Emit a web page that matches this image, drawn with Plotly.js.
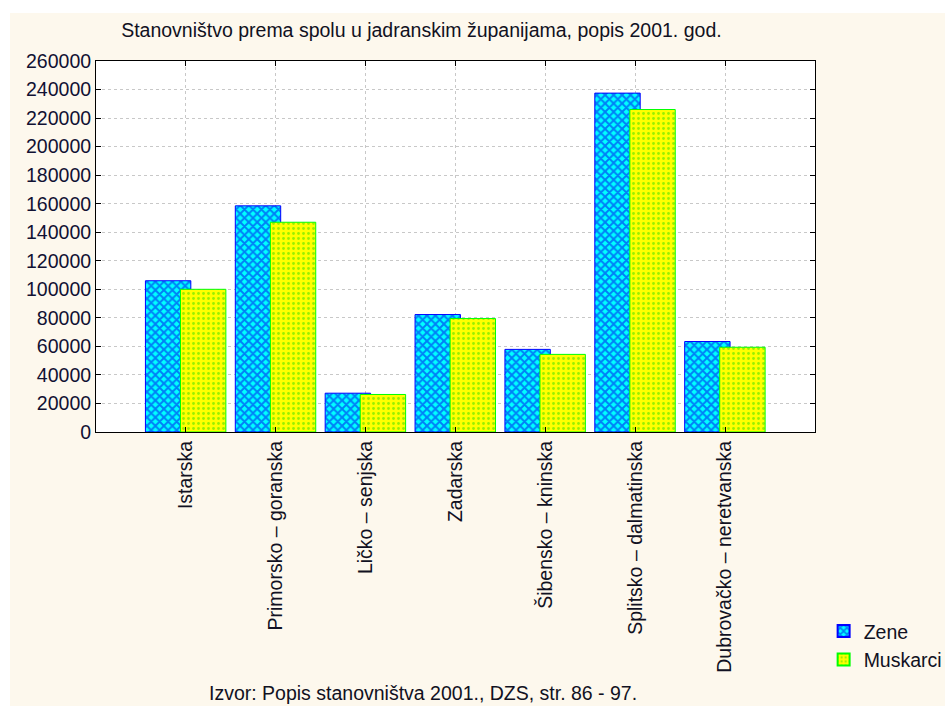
<!DOCTYPE html>
<html>
<head>
<meta charset="utf-8">
<script src="https://cdn.plot.ly/plotly-3.0.1.min.js"></script>
<style>
  html, body { margin: 0; padding: 0; background: #ffffff; }
  #chart { position: absolute; left: 10px; top: 13px; width: 935px; height: 693px; }
</style>
</head>
<body>
<div id="chart"></div>
<script>
const categories = ["Istarska", "Primorsko – goranska", "Ličko – senjska", "Zadarska",
  "Šibensko – kninska", "Splitsko – dalmatinska", "Dubrovačko – neretvanska"];
const zene = [106000, 158500, 27200, 82300, 57900, 237500, 63400];
const muskarci = [100000, 147000, 26300, 79500, 54400, 226000, 59400];
const yTicks = [0, 20000, 40000, 60000, 80000, 100000, 120000, 140000, 160000, 180000, 200000, 220000, 240000, 260000];
const seriesNames = ["Zene", "Muskarci"];
const titleText = "Stanovništvo prema spolu u jadranskim županijama, popis 2001. god.";
const sourceText = "Izvor: Popis stanovništva 2001., DZS, str. 86 - 97.";

const FONT = "Arial, 'Liberation Sans', sans-serif";
const FS = 19.5;

const traces = [
  {
    type: "bar", name: seriesNames[0], x: categories, y: zene,
    width: 0.505, offset: -0.45,
    marker: {
      color: "#00ffff",
      line: { color: "#0000ff", width: 1 },
      pattern: { shape: "x", fgcolor: "#0000ee", bgcolor: "#00ffff", size: 6, solidity: 0.55, fillmode: "overlay" }
    }
  },
  {
    type: "bar", name: seriesNames[1], x: categories, y: muskarci,
    width: 0.505, offset: -0.06,
    marker: {
      color: "#ffff00",
      line: { color: "#00ff00", width: 1 },
      pattern: { shape: ".", fgcolor: "#33dd00", bgcolor: "#ffff00", size: 5, solidity: 0.25, fillmode: "overlay" }
    }
  }
];

const layout = {
  width: 935, height: 693,
  margin: { l: 86, r: 130, t: 48, b: 274, autoexpand: false },
  paper_bgcolor: "#fdf8ed",
  plot_bgcolor: "#ffffff",
  barmode: "overlay",
  font: { family: FONT, size: FS, color: "#111122" },
  title: {
    text: titleText,
    font: { family: FONT, size: FS, color: "#111122" },
    xref: "container", x: 0.44, xanchor: "center",
    yref: "container", y: 0.975, yanchor: "middle"
  },
  xaxis: {
    type: "category",
    categoryorder: "array", categoryarray: categories,
    range: [-1, 7],
    tickangle: -90,
    ticks: "inside", ticklen: 5, tickcolor: "#000000",
    showline: true, linecolor: "#000000", linewidth: 1, mirror: "ticks",
    showgrid: true, gridcolor: "#c8c8c8", griddash: "dot", gridwidth: 1,
    tickfont: { family: FONT, size: FS, color: "#111122" },
    automargin: false,
    fixedrange: true
  },
  yaxis: {
    range: [0, 260000],
    tickvals: yTicks,
    ticktext: yTicks.map(String),
    ticks: "inside", ticklen: 5, tickcolor: "#000000",
    showline: true, linecolor: "#000000", linewidth: 1, mirror: "ticks",
    showgrid: true, gridcolor: "#c8c8c8", griddash: "dot", gridwidth: 1,
    zeroline: false,
    tickfont: { family: FONT, size: FS, color: "#111133" },
    automargin: false,
    fixedrange: true
  },
  showlegend: true,
  legend: {
    x: 1.012, xanchor: "left",
    y: -0.485, yanchor: "top",
    bgcolor: "rgba(0,0,0,0)",
    font: { family: FONT, size: FS, color: "#111122" },
    tracegroupgap: 0, itemsizing: "constant"
  },
  annotations: [
    {
      text: sourceText, showarrow: false,
      xref: "paper", yref: "paper",
      x: 0.455, xanchor: "center",
      y: -0.703, yanchor: "middle",
      font: { family: FONT, size: FS, color: "#111122" }
    }
  ]
};

Plotly.newPlot("chart", traces, layout, { displayModeBar: false, staticPlot: true });
</script>
</body>
</html>
